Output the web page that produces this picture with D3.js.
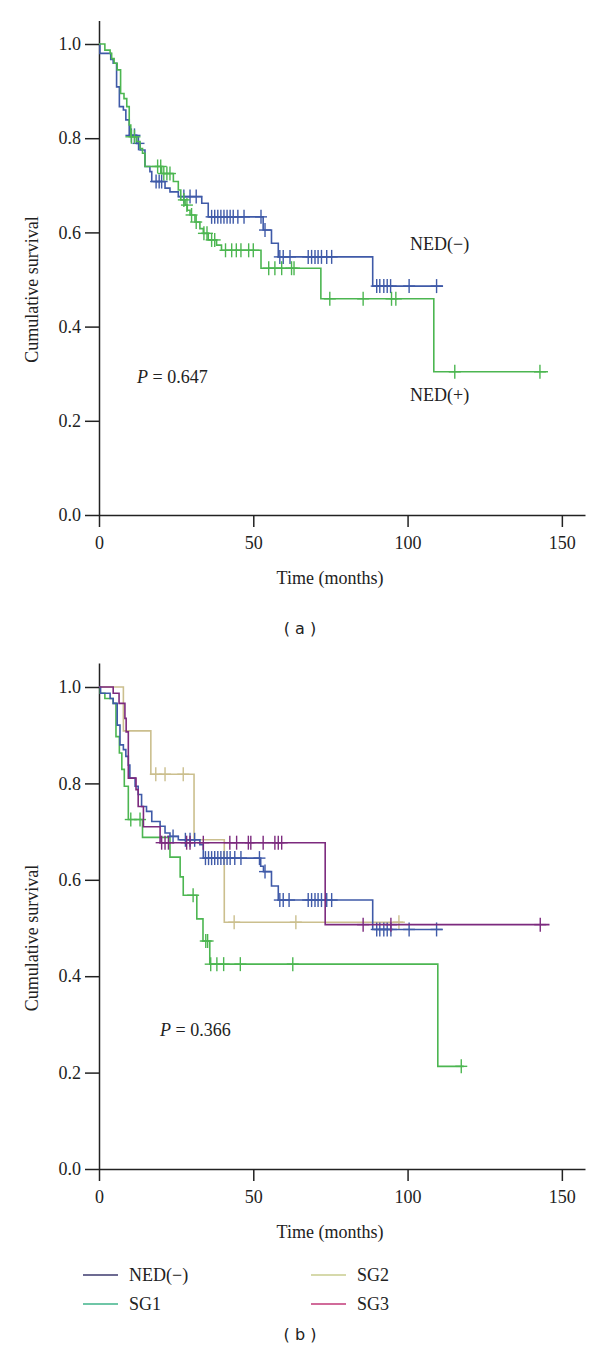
<!DOCTYPE html>
<html>
<head>
<meta charset="utf-8">
<script src="https://cdn.jsdelivr.net/npm/d3@7"></script>
<style>
body { margin: 0; background: #fff; }
svg { display: block; }
.axis text { font-family: "Liberation Serif", serif; font-size: 18px; fill: #222; }
.axis path, .axis line { stroke: #222; stroke-width: 1.5; }
</style>
</head>
<body>
<div id="chart"></div>
<script>
// ---- data ----
var xTicks = [0, 50, 100, 150];
var yTicks = [0, 0.2, 0.4, 0.6, 0.8, 1.0];

// panel (a)
var nedNegA = [[0.3,0.98],[3.8,0.967],[4.6,0.959],[5.7,0.909],[6.6,0.867],[7.9,0.86],[8.7,0.839],[9.8,0.806],
  [12.2,0.789],[13.3,0.775],[14.9,0.74],[16.5,0.729],[17.1,0.708],[21.4,0.694],[23,0.686],[25.7,0.676],
  [33.3,0.662],[35.4,0.633],[53.2,0.605],[55.9,0.577],[58.1,0.548],[88.7,0.486]];
var nedNegACens = [10.5,11.5,12.8,18.5,19.5,20.3,27.5,29.5,31.5,36.5,37.5,38.5,39.5,40.5,41.5,42.5,43.5,45,47,
  52.5,53.8,58.6,59.7,61.9,67.8,68.9,70,71,72.1,73.8,75.4,90,91,92.3,93.4,94.5,100.5,109.4];
var nedNegAEnd = 111.5;

var nedPosA = [[1.9,0.987],[3.6,0.98],[4.1,0.969],[4.9,0.959],[5.9,0.945],[7,0.895],[8.1,0.884],[9,0.867],
  [9.8,0.828],[10.3,0.803],[12.2,0.793],[13.3,0.778],[14.1,0.768],[14.9,0.74],[20.3,0.725],[24.1,0.708],
  [25.7,0.69],[26.5,0.669],[27.9,0.658],[28.6,0.647],[29.5,0.637],[31.1,0.622],[32.7,0.608],[33.8,0.598],
  [35.4,0.584],[38.1,0.573],[39.7,0.562],[52.5,0.524],[71.9,0.459],[108.5,0.304]];
var nedPosACens = [10.5,11.5,19,20,21,22,23,27.5,28.5,30,31.5,34,35,36.5,37.5,41,43,44.5,46,48.5,50,
  55,57,59.2,62.4,63.2,74.8,85.6,94.8,96.2,115.3,142.9];
var nedPosAEnd = 145.5;

// panel (b)
var nedNegB = [[0.5,0.987],[3.6,0.976],[4.6,0.966],[5.9,0.921],[6.8,0.88],[7.9,0.87],[8.7,0.856],[9.5,0.838],
  [10,0.811],[11.7,0.794],[12.7,0.777],[13.8,0.752],[15.4,0.742],[17.1,0.721],[19.8,0.711],[21.4,0.697],
  [23,0.69],[25.7,0.683],[32.7,0.673],[33.8,0.645],[52.4,0.628],[53.3,0.617],[55.9,0.587],[58.1,0.558],[88.7,0.497]];
var nedNegBCens = [24,28,29.5,31,34.5,35.5,36.5,37.5,38.5,39.5,40.5,41.5,42.5,44,46,52,53.8,58.6,59.7,61.6,
  67.8,68.9,70,71,72.1,73.8,75.4,90,91,92.3,93.4,94.6,100.5,109.4];
var nedNegBEnd = 111.4;

var sg1B = [[0.4,0.987],[1.9,0.976],[4.6,0.966],[5.5,0.897],[6.6,0.863],[7.4,0.829],[8.2,0.794],[9.5,0.725],
  [14.1,0.688],[23,0.647],[26.3,0.606],[27.3,0.568],[31.7,0.519],[33.7,0.473],[35.9,0.425],[109.8,0.213]];
var sg1BCens = [10.3,13.3,30.5,34.6,35.2,36.2,38.2,40.4,45.8,62.8,117.4];
var sg1BEnd = 118.2;

var sg2B = [[7.9,0.909],[16.8,0.819],[30.8,0.683],[40.6,0.512]];
var sg2BCens = [18.4,21.4,27.3,43.8,63.8,97.2];
var sg2BEnd = 98.6;

var sg3B = [[4.6,0.987],[6.5,0.966],[8.4,0.935],[8.8,0.907],[9.5,0.811],[12,0.787],[12.7,0.752],[14.4,0.71],
  [19.8,0.677],[73.3,0.507]];
var sg3BCens = [20.3,21.4,22.5,28.4,29.5,33.8,42.4,44.6,48.4,49.2,53.2,57,58.1,59.2,85.6,94.6,143];
var sg3BEnd = 146;

var legendNames = ['NED(\u2212)', 'SG1', 'SG2', 'SG3'];
var legendColors = ['#3d3a6e', '#3fb38a', '#c9cc8f', '#c23a78'];

// ---- drawing ----
var W = 600, H = 1355;
var svg = d3.select('#chart').append('svg')
  .attr('width', W)
  .attr('height', H);

var serif = '"Liberation Serif", serif';

function panel(top, bottom, series, opts) {
  var x = d3.scaleLinear().domain([0, 157.5]).range([99, 585]);
  var y = d3.scaleLinear().domain([0, 1.05]).range([bottom, bottom - 1.05 * (bottom - top)]);
  var g = svg.append('g');

  g.append('g').attr('class', 'axis')
    .attr('transform', 'translate(0,' + bottom + ')')
    .call(d3.axisBottom(x).tickValues(xTicks).tickSize(12).tickSizeOuter(0).tickPadding(9));
  g.append('g').attr('class', 'axis')
    .attr('transform', 'translate(99,0)')
    .call(d3.axisLeft(y).tickValues(yTicks).tickFormat(d3.format('.1f')).tickSize(14).tickSizeOuter(0).tickPadding(4));

  g.append('text')
    .attr('transform', 'translate(38,' + ((top + bottom) / 2 + 10) + ') rotate(-90)')
    .attr('text-anchor', 'middle')
    .style('font-family', serif)
    .style('font-size', '18px')
    .attr('fill', '#222')
    .text('Cumulative survival');

  g.append('text')
    .attr('x', 330).attr('y', bottom + 69)
    .attr('text-anchor', 'middle')
    .style('font-family', serif)
    .style('font-size', '18px')
    .attr('fill', '#222')
    .text('Time (months)');

  var line = d3.line()
    .x(function(d) { return x(d[0]); })
    .y(function(d) { return y(d[1]); })
    .curve(d3.curveStepAfter);

  series.forEach(function(s) {
    var pts = [[0, 1]].concat(s.steps);
    pts.push([s.end, pts[pts.length - 1][1]]);
    g.append('path')
      .attr('d', line(pts))
      .attr('fill', 'none')
      .attr('stroke', s.color)
      .attr('stroke-width', 1.6);

    var survAt = function(t) {
      var v = 1;
      s.steps.forEach(function(p) { if (p[0] <= t) v = p[1]; });
      return v;
    };
    var cg = g.append('g').attr('stroke', s.color).attr('stroke-width', 1.4);
    s.cens.forEach(function(t) {
      var cx = x(t), cy = y(survAt(t));
      cg.append('line').attr('x1', cx).attr('x2', cx).attr('y1', cy - 7).attr('y2', cy + 7);
      cg.append('line').attr('x1', cx - 6).attr('x2', cx + 6).attr('y1', cy).attr('y2', cy);
    });
  });

  // P value
  var pt = g.append('text')
    .attr('x', opts.px).attr('y', opts.py)
    .style('font-family', serif)
    .style('font-size', '18px')
    .attr('fill', '#222');
  pt.append('tspan').style('font-style', 'italic').text('P');
  pt.append('tspan').text(' = ' + opts.p);

  return { x: x, y: y, g: g };
}

var pa = panel(44, 515, [
  { steps: nedNegA, cens: nedNegACens, end: nedNegAEnd, color: '#3f5aa8' },
  { steps: nedPosA, cens: nedPosACens, end: nedPosAEnd, color: '#4cb651' }
], { px: 137, py: 383, p: '0.647' });

pa.g.append('text').attr('x', 410).attr('y', 250)
  .style('font-family', serif).style('font-size', '18px').attr('fill', '#222')
  .text('NED(\u2212)');
pa.g.append('text').attr('x', 410).attr('y', 401)
  .style('font-family', serif).style('font-size', '18px').attr('fill', '#222')
  .text('NED(+)');

svg.append('text').attr('x', 300).attr('y', 634)
  .attr('text-anchor', 'middle')
  .style('font-family', '"DejaVu Sans", sans-serif').style('font-size', '16px').attr('fill', '#222')
  .text('( a )');

var pb = panel(687, 1169, [
  { steps: sg2B, cens: sg2BCens, end: sg2BEnd, color: '#cbbf8e' },
  { steps: sg1B, cens: sg1BCens, end: sg1BEnd, color: '#4cb651' },
  { steps: nedNegB, cens: nedNegBCens, end: nedNegBEnd, color: '#3f5aa8' },
  { steps: sg3B, cens: sg3BCens, end: sg3BEnd, color: '#7c2a7e' }
], { px: 160, py: 1036, p: '0.366' });

// legend
var leg = svg.append('g');
legendNames.forEach(function(name, i) {
  var lx = i < 2 ? 83 : 311;
  var ly = 1275 + (i % 2) * 29;
  leg.append('line').attr('x1', lx).attr('x2', lx + 35).attr('y1', ly).attr('y2', ly)
    .attr('stroke', legendColors[i]).attr('stroke-width', 1.5);
  leg.append('text').attr('x', lx + 46).attr('y', ly + 6)
    .style('font-family', serif).style('font-size', '18px').attr('fill', '#222')
    .text(name);
});

svg.append('text').attr('x', 300).attr('y', 1340)
  .attr('text-anchor', 'middle')
  .style('font-family', '"DejaVu Sans", sans-serif').style('font-size', '16px').attr('fill', '#222')
  .text('( b )');
</script>
</body>
</html>
